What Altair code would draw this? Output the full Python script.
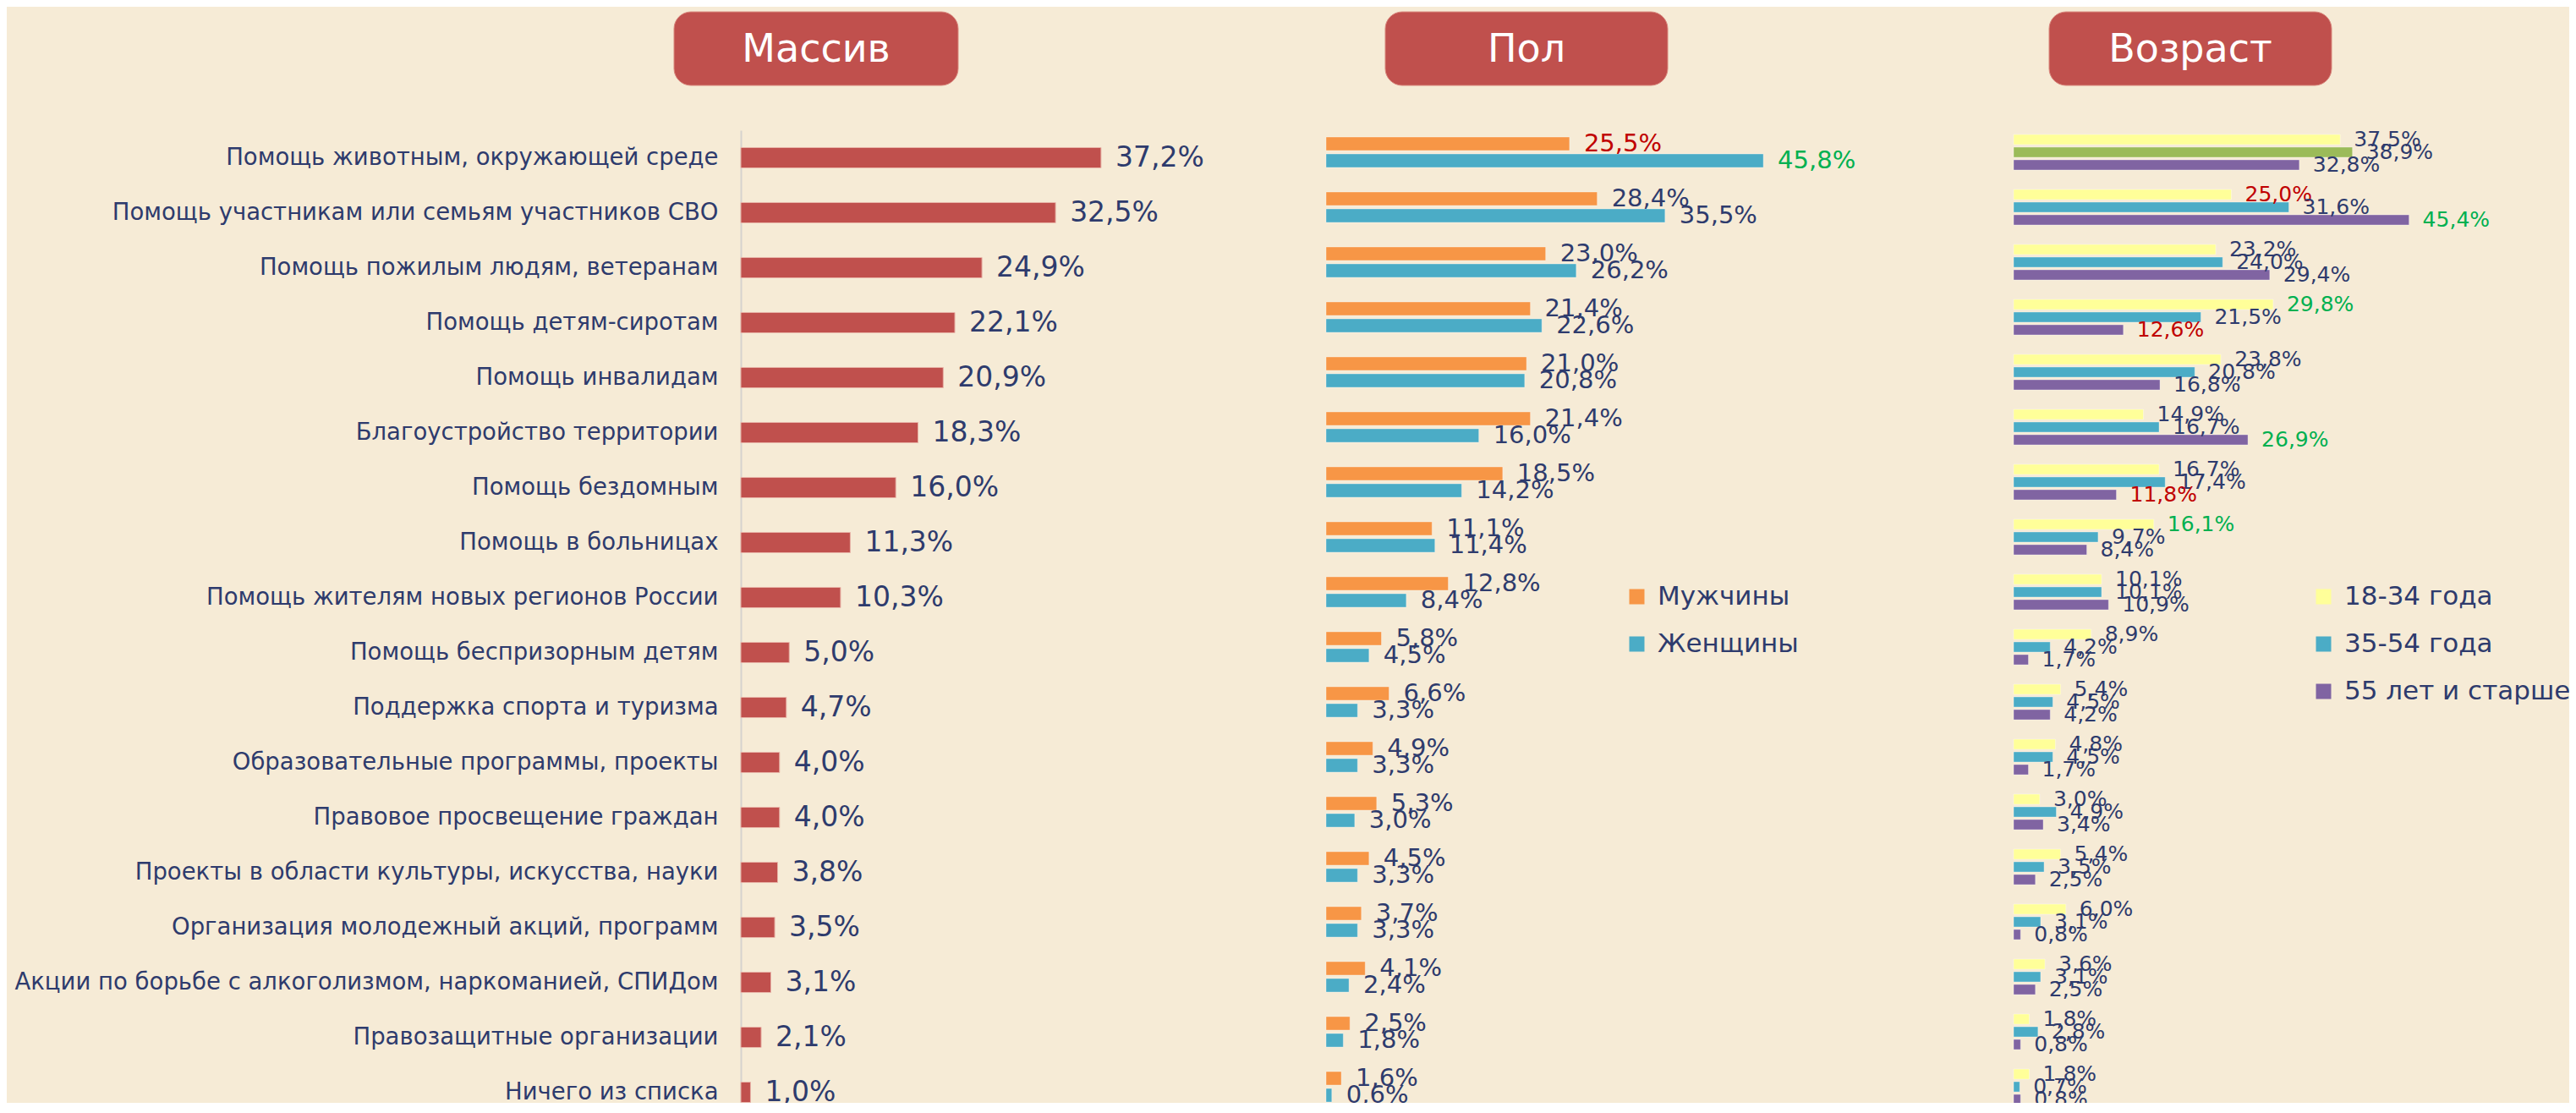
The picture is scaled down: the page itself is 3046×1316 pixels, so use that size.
import altair as alt
import pandas as pd

# ---------------- data ----------------
categories = [
    "Помощь животным, окружающей среде",
    "Помощь участникам или семьям участников СВО",
    "Помощь пожилым людям, ветеранам",
    "Помощь детям-сиротам",
    "Помощь инвалидам",
    "Благоустройство территории",
    "Помощь бездомным",
    "Помощь в больницах",
    "Помощь жителям новых регионов России",
    "Помощь беспризорным детям",
    "Поддержка спорта и туризма",
    "Образовательные программы, проекты",
    "Правовое просвещение граждан",
    "Проекты в области культуры, искусства, науки",
    "Организация молодежный акций, программ",
    "Акции по борьбе с алкоголизмом, наркоманией, СПИДом",
    "Правозащитные организации",
    "Ничего из списка",
]
massiv = [37.2, 32.5, 24.9, 22.1, 20.9, 18.3, 16.0, 11.3, 10.3, 5.0, 4.7, 4.0, 4.0, 3.8, 3.5, 3.1, 2.1, 1.0]

sex_groups = ["Мужчины", "Женщины"]
men = [25.5, 28.4, 23.0, 21.4, 21.0, 21.4, 18.5, 11.1, 12.8, 5.8, 6.6, 4.9, 5.3, 4.5, 3.7, 4.1, 2.5, 1.6]
women = [45.8, 35.5, 26.2, 22.6, 20.8, 16.0, 14.2, 11.4, 8.4, 4.5, 3.3, 3.3, 3.0, 3.3, 3.3, 2.4, 1.8, 0.6]

age_groups = ["18-34 года", "35-54 года", "55 лет и старше"]
age_18_34 = [37.5, 25.0, 23.2, 29.8, 23.8, 14.9, 16.7, 16.1, 10.1, 8.9, 5.4, 4.8, 3.0, 5.4, 6.0, 3.6, 1.8, 1.8]
age_35_54 = [38.9, 31.6, 24.0, 21.5, 20.8, 16.7, 17.4, 9.7, 10.1, 4.2, 4.5, 4.5, 4.9, 3.5, 3.1, 3.1, 2.8, 0.7]
age_55 = [32.8, 45.4, 29.4, 12.6, 16.8, 26.9, 11.8, 8.4, 10.9, 1.7, 4.2, 1.7, 3.4, 2.5, 0.8, 2.5, 0.8, 0.8]

panel_titles = ["Массив", "Пол", "Возраст"]

# significance marks: row index -> "low"/"high"
men_flags = {0: "low"}
women_flags = {0: "high"}
age_18_34_flags = {1: "low", 3: "high", 7: "high"}
age_35_54_flags = {}
age_55_flags = {1: "high", 3: "low", 5: "high", 6: "low"}
age_bar_highlight = {("35-54 года", 0)}

# ---------------- styles ----------------
FONT = "DejaVu Sans"
BG = "#F6EBD6"
NAVY = "#2E3B6D"
RED = "#C0504D"
FLAG_DOMAIN = ["none", "low", "high"]
FLAG_RANGE = [NAVY, "#C00000", "#00B050"]


def fmt(v):
    return f"{v:.1f}".replace(".", ",") + "%"


df_m = pd.DataFrame({"cat": categories, "value": massiv})
df_m["label"] = df_m["value"].map(fmt)

rows = []
for g, vals, fl in [(sex_groups[0], men, men_flags), (sex_groups[1], women, women_flags)]:
    for i, (c, v) in enumerate(zip(categories, vals)):
        rows.append({"cat": c, "group": g, "value": v, "label": fmt(v), "flag": fl.get(i, "none")})
df_s = pd.DataFrame(rows)

rows = []
for g, vals, fl in [(age_groups[0], age_18_34, age_18_34_flags),
                    (age_groups[1], age_35_54, age_35_54_flags),
                    (age_groups[2], age_55, age_55_flags)]:
    for i, (c, v) in enumerate(zip(categories, vals)):
        rows.append({"cat": c, "group": g, "value": v, "label": fmt(v),
                     "flag": fl.get(i, "none"), "hl": (g, i) in age_bar_highlight})
df_a = pd.DataFrame(rows)

Y = alt.Y(
    "cat:N", sort=categories, title=None,
    scale=alt.Scale(range=[0, 1170], paddingInner=0, paddingOuter=0),
    axis=alt.Axis(labelFont=FONT, labelFontSize=27.5, labelColor=NAVY, labelPadding=27,
                  labelLimit=0, ticks=False, domain=True, domainColor="#D6D3CE",
                  domainWidth=2, grid=False),
)

LEGEND_COMMON = dict(title=None, orient="none", symbolType="square", symbolSize=324,
                     symbolStrokeWidth=0, labelFont=FONT, labelFontSize=31, labelColor=NAVY,
                     labelOffset=9, labelLimit=0, rowPadding=24, padding=0)

# ---------------- panel 1: Массив ----------------
xm = alt.X("value:Q", scale=alt.Scale(domain=[0, 40], range=[0, 458], nice=False, zero=True), axis=None)
massiv_layer = alt.layer(
    alt.Chart(df_m).mark_bar(height=24, color=RED, stroke="#E8B4A8", strokeWidth=1).encode(x=xm, y=Y),
    alt.Chart(df_m).mark_text(align="left", baseline="middle", dx=17, font=FONT, fontSize=33,
                              color=NAVY).encode(x=xm, y=Y, text="label:N"),
)

# ---------------- panel 2: Пол ----------------
xs = alt.X("value:Q", scale=alt.Scale(domain=[0, 50], range=[692, 1256.5], nice=False, zero=True), axis=None)
ys = alt.YOffset("group:N", sort=sex_groups,
                 scale=alt.Scale(domain=sex_groups, range=[8, 44], paddingInner=0.2, paddingOuter=0))
sex_layer = alt.layer(
    alt.Chart(df_s).mark_bar(stroke="#FFFFFF", strokeOpacity=0.35, strokeWidth=1).encode(
        x=xs, y=Y, yOffset=ys,
        color=alt.Color("group:N", sort=sex_groups,
                        scale=alt.Scale(domain=sex_groups, range=["#F79646", "#4BACC6"]),
                        legend=alt.Legend(legendX=1044, legendY=536, **LEGEND_COMMON)),
    ),
    alt.Chart(df_s).mark_text(align="left", baseline="middle", dx=17, font=FONT, fontSize=29).encode(
        x=xs, y=Y, yOffset=ys, text="label:N",
        fill=alt.Fill("flag:N", scale=alt.Scale(domain=FLAG_DOMAIN, range=FLAG_RANGE), legend=None),
    ),
)

# ---------------- panel 3: Возраст ----------------
xa = alt.X("value:Q", scale=alt.Scale(domain=[0, 50], range=[1505, 2020], nice=False, zero=True), axis=None)
ya = alt.YOffset("group:N", sort=age_groups,
                 scale=alt.Scale(domain=age_groups, range=[5, 47], paddingInner=0.2, paddingOuter=0))
age_layer = alt.layer(
    alt.Chart(df_a).mark_bar(stroke="#FFFFFF", strokeOpacity=0.35, strokeWidth=1).encode(
        x=xa, y=Y, yOffset=ya,
        color=alt.condition(
            "datum.hl",
            alt.value("#9BBB59"),
            alt.Color("group:N", sort=age_groups,
                      scale=alt.Scale(domain=age_groups, range=["#FFFF99", "#4BACC6", "#8064A2"]),
                      legend=alt.Legend(legendX=1856, legendY=536, **LEGEND_COMMON)),
        ),
    ),
    alt.Chart(df_a).mark_text(align="left", baseline="middle", dx=16, font=FONT, fontSize=25).encode(
        x=xa, y=Y, yOffset=ya, text="label:N",
        fill=alt.Fill("flag:N", scale=alt.Scale(domain=FLAG_DOMAIN, range=FLAG_RANGE), legend=None),
    ),
)

# ---------------- panel title boxes (decoration) ----------------
box_spans = [(-79, 257), (762, 1096), (1547, 1881)]
title_layers = []
for t, (x0, x1) in zip(panel_titles, box_spans):
    tdf = pd.DataFrame({"t": [t]})
    title_layers.append(
        alt.Chart(tdf).mark_rect(color=RED, cornerRadius=20, stroke="#D9897F", strokeWidth=1).encode(
            x=alt.value(x0), x2=alt.value(x1), y=alt.value(-140), y2=alt.value(-53))
    )
    title_layers.append(
        alt.Chart(tdf).mark_text(font=FONT, fontSize=46, color="white", align="center",
                                 baseline="middle").encode(
            x=alt.value((x0 + x1) / 2), y=alt.value(-95), text="t:N")
    )

chart = (
    alt.layer(*title_layers, massiv_layer, sex_layer, age_layer)
    .resolve_scale(x="independent", color="independent", fill="independent", yOffset="independent")
    .properties(width=2162, height=1150, background=BG,
                padding={"left": 868, "top": 146, "right": 0, "bottom": 0},
                autosize=alt.AutoSizeParams(type="none"))
    .configure_view(stroke=None)
)

chart.save("out.html", embed_options={"renderer": "svg", "actions": False})
